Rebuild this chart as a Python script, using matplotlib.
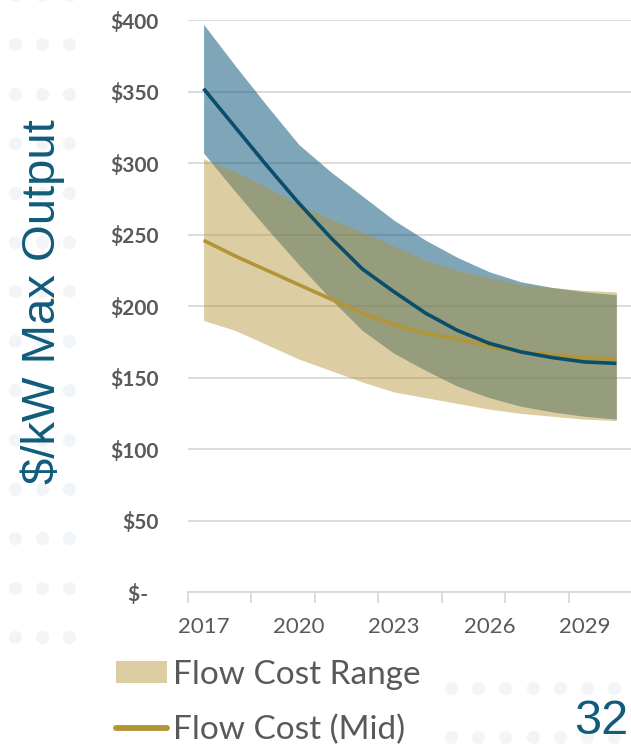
import numpy as np
import matplotlib
matplotlib.use("Agg")
import matplotlib.pyplot as plt
from matplotlib.ticker import FixedLocator

# ----- data ($/kW) -----
years = list(range(2017, 2031))
blue_hi  = [397, 368, 340, 313, 294, 277, 260, 246, 234, 224, 217, 213, 210, 208]
blue_mid = [352, 325, 298, 272, 248, 226, 210, 195, 183, 174, 168, 164, 161, 160]
blue_lo  = [307, 280, 254, 229, 205, 183, 167, 155, 144, 136, 130, 126, 123, 121]
flow_hi  = [303, 294, 283, 271, 261, 252, 242, 232, 225, 220, 215, 213, 211, 210]
flow_mid = [246, 235, 225, 215, 205, 195, 187, 181, 177, 172, 168, 166, 164, 163]
flow_lo  = [190, 183, 173, 163, 155, 147, 140, 136, 132, 128, 125, 123, 121, 120]

y_ticks = [0, 50, 100, 150, 200, 250, 300, 350, 400]
x_label_years = [2017, 2020, 2023, 2026, 2029]

BLUE = "#004F73"
BLUE_LINE = "#0A4E6C"
GOLD = "#B39437"
GRID = "#D9D9D9"
TXT = "#595959"
TITLE_BLUE = "#115B7B"
DOT = "#F2F5F7"

W, H = 631, 748
fig = plt.figure(figsize=(W / 100, H / 100), dpi=100)
fig.patch.set_facecolor("white")

# faint background slide dots
bg = fig.add_axes([0, 0, 1, 1], zorder=-5)
bg.set_xlim(0, W)
bg.set_ylim(H, 0)
bg.axis("off")
for yy in np.arange(-5, 650, 49.4):
    bg.scatter([15, 42, 69], [yy] * 3, s=90, color=DOT, lw=0)
for yy in [688, 737]:
    bg.scatter(np.arange(451, 640, 27.2), [yy] * 7, s=90, color=DOT, lw=0)

# plot area in pixel terms
x0_px, y_top_px, y_bot_px = 187.7, 20, 592.3
cat_w = 31.75
ax = fig.add_axes([x0_px / W, 1 - y_bot_px / H, 14 * cat_w / W, (y_bot_px - y_top_px) / H])
ax.set_facecolor("none")

ax.fill_between(years, blue_lo, blue_hi, color=BLUE, alpha=0.5, lw=0, zorder=2)
rng = ax.fill_between(years, flow_lo, flow_hi, color=GOLD, alpha=0.46, lw=0, zorder=3,
                      label="Flow Cost Range")
ax.plot(years, blue_mid, color=BLUE_LINE, lw=2.6, zorder=5, solid_capstyle="butt")
mid, = ax.plot(years, flow_mid, color=GOLD, lw=2.6, zorder=4, solid_capstyle="butt",
               label="Flow Cost (Mid)")

ax.set_xlim(2016.5, 2030.5)
ax.set_ylim(0, 400)

for s in ["top", "right", "left"]:
    ax.spines[s].set_visible(False)
ax.spines["bottom"].set_color(GRID)
ax.spines["bottom"].set_linewidth(1.3)

ax.yaxis.set_major_locator(FixedLocator(y_ticks))
ax.set_yticklabels(["$-  "] + ["$%d" % v for v in y_ticks[1:]])
ax.grid(axis="y", color=GRID, lw=1.3, zorder=0)
ax.set_axisbelow(True)
ax.tick_params(axis="y", length=0, pad=21, labelsize=15, labelcolor=TXT)
for t in ax.get_yticklabels():
    t.set_fontweight("bold")
    t.set_family("Lato")

# x: tick marks on category boundaries, labels every 3rd year
ax.xaxis.set_major_locator(FixedLocator(np.arange(2016.5, 2031, 2)))
ax.xaxis.set_minor_locator(FixedLocator(x_label_years))
ax.tick_params(axis="x", which="major", length=8, width=1.3, color=GRID, labelbottom=False)
ax.tick_params(axis="x", which="minor", length=0, pad=18, labelsize=16, labelcolor=TXT)
ax.set_xticklabels([str(y) for y in x_label_years], minor=True, family="Lato")

fig.text(43 / W, 1 - 302 / H, "$/kW Max Output", rotation=90, ha="center", va="center",
         fontsize=34, color=TITLE_BLUE, family="Liberation Sans")

leg = fig.legend(handles=[rng, mid], loc="upper left",
                 bbox_to_anchor=(116 / W, 1 - 660 / H), frameon=False,
                 prop={"family": "Lato", "size": 24}, labelcolor=TXT,
                 handlelength=1.53, handleheight=0.63, handletextpad=0.18,
                 labelspacing=0.74, borderpad=0, borderaxespad=0)
for ln in leg.get_lines():
    ln.set_linewidth(4.2)
    ln.set_solid_capstyle("round")

fig.text(628 / W, 1 - 721 / H, "32", ha="right", va="center", fontsize=35,
         color=TITLE_BLUE, family="Liberation Sans")

fig.savefig("out.png", dpi=100)
